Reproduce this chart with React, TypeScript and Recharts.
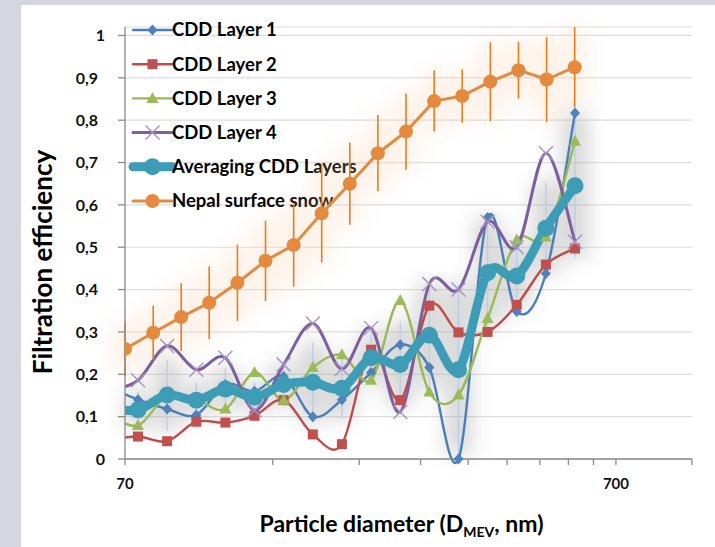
import React from 'react'
import { LineChart, Line, XAxis, YAxis, CartesianGrid, ErrorBar, Label } from 'recharts'

// CDD size bins (nm); the first bin lies just below the 70 nm axis start
const cddDiameter = [64.9, 74.4, 85.3, 97.8, 112.1, 128.5, 147.3, 168.9, 193.6, 222.0, 254.5, 291.7, 334.5, 383.4, 439.6, 503.9, 577.7]
const layer1 = [0.17, 0.14, 0.118, 0.104, 0.176, 0.16, 0.195, 0.1, 0.14, 0.204, 0.27, 0.216, 0.0, 0.57, 0.348, 0.438, 0.817]
const layer2 = [0.045, 0.053, 0.042, 0.088, 0.086, 0.102, 0.139, 0.058, 0.035, 0.258, 0.139, 0.362, 0.299, 0.3, 0.364, 0.459, 0.497]
const layer3 = [0.105, 0.079, 0.15, 0.14, 0.118, 0.204, 0.139, 0.216, 0.246, 0.186, 0.374, 0.158, 0.151, 0.332, 0.517, 0.524, 0.75]
const layer4 = [0.16, 0.186, 0.267, 0.211, 0.239, 0.115, 0.223, 0.32, 0.213, 0.309, 0.111, 0.413, 0.4, 0.56, 0.5, 0.722, 0.513]
const layerMean = [0.12, 0.116, 0.151, 0.139, 0.165, 0.146, 0.176, 0.181, 0.167, 0.239, 0.223, 0.292, 0.211, 0.44, 0.432, 0.545, 0.645]
const layerMeanErr = [0, 0.043, 0.083, 0.042, 0.05, 0.035, 0.05, 0.094, 0.072, 0.06, 0.1, 0.12, 0.2, 0.13, 0.08, 0.11, 0.17]

// Nepal surface snow reference
const nepalDiameter = [70, 79.9, 91.1, 103.9, 118.6, 135.3, 154.4, 176.1, 200.9, 229.2, 261.5, 298.4, 340.4, 388.4, 443.1, 505.6, 576.8]
const nepalSnow = [0.26, 0.298, 0.335, 0.369, 0.416, 0.468, 0.505, 0.58, 0.65, 0.722, 0.773, 0.845, 0.857, 0.891, 0.918, 0.896, 0.925]
const nepalErr = [0.064, 0.064, 0.08, 0.086, 0.09, 0.095, 0.098, 0.116, 0.097, 0.09, 0.09, 0.072, 0.063, 0.093, 0.067, 0.1, 0.095]

const xTicks = [70, 140, 210, 280, 350, 420, 490, 560, 630, 700, 1000]
const xLabels = [70, 700]
const yTicks = [0, 0.1, 0.2, 0.3, 0.4, 0.5, 0.6, 0.7, 0.8, 0.9, 1]

const rows = (ds: number[], vs: number[], es?: number[]) =>
    ds.map((d, i) => ({ d, v: vs[i], e: es ? es[i] : 0 }))

const cdd1 = rows(cddDiameter, layer1)
const cdd2 = rows(cddDiameter, layer2)
const cdd3 = rows(cddDiameter, layer3)
const cdd4 = rows(cddDiameter, layer4)
const cddMean = rows(cddDiameter, layerMean, layerMeanErr)
const nepal = rows(nepalDiameter, nepalSnow, nepalErr)

// Excel-like smoothed line: Catmull-Rom segments written as cubic beziers
const smooth = (ctx: any) => {
    let pts: number[][] = []
    return {
        areaStart() {},
        areaEnd() {},
        lineStart() { pts = [] },
        point(x: number, y: number) { pts.push([+x, +y]) },
        lineEnd() {
            const n = pts.length
            if (!n) return
            ctx.moveTo(pts[0][0], pts[0][1])
            for (let i = 0; i < n - 1; i++) {
                const p0 = pts[Math.max(i - 1, 0)], p1 = pts[i], p2 = pts[i + 1], p3 = pts[Math.min(i + 2, n - 1)]
                ctx.bezierCurveTo(
                    p1[0] + (p2[0] - p0[0]) / 6, p1[1] + (p2[1] - p0[1]) / 6,
                    p2[0] - (p3[0] - p1[0]) / 6, p2[1] - (p3[1] - p1[1]) / 6,
                    p2[0], p2[1])
            }
        },
    }
}

// marker shapes
const Diamond = ({ cx, cy, c }: any) =>
    <polygon points={`${cx},${cy - 5.5} ${cx + 5},${cy} ${cx},${cy + 5.5} ${cx - 5},${cy}`} fill={c} />
const Square = ({ cx, cy, c }: any) =>
    <rect x={cx - 5} y={cy - 5} width={10} height={10} fill={c} />
const Triangle = ({ cx, cy, c }: any) =>
    <polygon points={`${cx},${cy - 6.5} ${cx + 6},${cy + 4.5} ${cx - 6},${cy + 4.5}`} fill={c} />
const Cross = ({ cx, cy, c }: any) => (
    <g stroke={c} strokeWidth={1.4}>
        <line x1={cx - 7} y1={cy - 7} x2={cx + 7} y2={cy + 7} />
        <line x1={cx - 7} y1={cy + 7} x2={cx + 7} y2={cy - 7} />
    </g>
)
const Dot = (r: number) => ({ cx, cy, c }: any) => <circle cx={cx} cy={cy} r={r} fill={c} />
const BigDot = Dot(8.5)
const SmallDot = Dot(7)

const series = [
    { name: 'CDD Layer 1', color: '#4a7ebb', mark: '#4f81bd', width: 2.4, Shape: Diamond },
    { name: 'CDD Layer 2', color: '#be4b48', mark: '#c0504d', width: 2.4, Shape: Square },
    { name: 'CDD Layer 3', color: '#98b954', mark: '#9bbb59', width: 2.4, Shape: Triangle },
    { name: 'CDD Layer 4', color: '#7d5fa0', mark: '#a592c6', width: 3, Shape: Cross },
    { name: 'Averaging CDD Layers', color: '#3d9db6', mark: '#3d9db6', width: 9, Shape: BigDot },
    { name: 'Nepal surface snow', color: '#e48a3e', mark: '#e48a3e', width: 3, Shape: SmallDot },
]

const markerFor = (i: number) => (p: any) =>
    p.payload.d < 70
        ? <g key={p.index} />
        : React.createElement(series[i].Shape, { key: p.index, cx: p.cx, cy: p.cy, c: series[i].mark })

const YTick = ({ x, y, payload }: any) => {
    const v = payload.value
    const txt = v === 0 || v === 1 ? String(v) : v.toFixed(1).replace('.', ',')
    const shift = txt.includes(',') ? 7 : 0
    return (
        <text x={x - shift} y={y} dy="0.36em" textAnchor="end" fontSize={16} fontWeight={700} fill="#111">
            {txt}
        </text>
    )
}

const YTitle = ({ viewBox }: any) => {
    const x = viewBox.x + 21
    const y = viewBox.y + viewBox.height / 2 + 19
    return (
        <text x={x} y={y} transform={`rotate(-90, ${x}, ${y})`} textAnchor="middle" dominantBaseline="central"
            fontSize={26} fontWeight={700} fill="#000">
            Filtration efficiency
        </text>
    )
}

const XTitle = ({ viewBox }: any) => (
    <text x={viewBox.x + viewBox.width / 2 - 7} y={viewBox.y + 73} textAnchor="middle" fontSize={23} fontWeight={700} fill="#000">
        Particle diameter (D<tspan fontSize={14} dy={5}>MEV</tspan><tspan dy={-5}>, nm)</tspan>
    </text>
)

const LegendBox = () => (
    <g transform="translate(112, 8)">
        {series.map((s, i) => {
            const y = 17 + i * 34.2
            return (
                <g key={s.name}>
                    <line x1={0} x2={39} y1={y} y2={y} stroke={s.color} strokeWidth={s.width} strokeLinecap="round" />
                    <s.Shape cx={19.5} cy={y} c={s.mark} />
                    <text x={39} y={y} dy="0.35em" fontSize={18.5} fontWeight={700} fill="#000">{s.name}</text>
                </g>
            )
        })}
    </g>
)

export default function App() {
    return (
        <div style={{ position: 'absolute', left: 0, top: 0, width: 715, height: 547, background: '#d5d6e0', fontFamily: 'Lato, "Open Sans", sans-serif' }}>
            <div style={{ position: 'absolute', left: 21, top: 5, width: 694, height: 542, background: '#fff' }}>
                <LineChart width={694} height={542} margin={{ top: 22, right: 23, bottom: 0, left: 0 }}>
                    <defs>
                        <filter id="haze" filterUnits="userSpaceOnUse" x={0} y={0} width={694} height={542}>
                            <feGaussianBlur stdDeviation={10} />
                        </filter>
                    </defs>
                    <CartesianGrid vertical={false} stroke="#dedede" strokeWidth={1.2} />
                    <XAxis type="number" dataKey="d" scale="log" domain={[70, 1000]} allowDataOverflow
                        ticks={xTicks} interval={0} height={88} tickSize={6} tickMargin={13}
                        tickFormatter={(v: number) => (xLabels.includes(v) ? String(v) : '')}
                        axisLine={{ stroke: '#8a8a8a', strokeWidth: 1.3 }} tickLine={{ stroke: '#8a8a8a', strokeWidth: 1.3 }}
                        tick={{ fontSize: 15, fontWeight: 700, fill: '#111' }}>
                        <Label content={XTitle} />
                    </XAxis>
                    <YAxis type="number" domain={[0, 1]} ticks={yTicks} interval={0} width={104} tickSize={7} tickMargin={13}
                        axisLine={{ stroke: '#8a8a8a', strokeWidth: 1.3 }} tickLine={{ stroke: '#8a8a8a', strokeWidth: 1.3 }}
                        tick={<YTick />}>
                        <Label content={YTitle} />
                    </YAxis>

                    {/* soft halos behind the error bars */}
                    <Line data={nepal} dataKey="v" stroke="none" dot={false} activeDot={false} legendType="none" isAnimationActive={false}>
                        <ErrorBar dataKey="e" direction="y" width={0} stroke="#f8c9a2" strokeWidth={28} opacity={0.22}
                            filter="url(#haze)" isAnimationActive={false} />
                    </Line>
                    <Line data={cddMean} dataKey="v" stroke="none" dot={false} activeDot={false} legendType="none" isAnimationActive={false}>
                        <ErrorBar dataKey="e" direction="y" width={0} stroke="#9c9c9c" strokeWidth={26} opacity={0.42}
                            filter="url(#haze)" isAnimationActive={false} />
                        <ErrorBar dataKey="e" direction="y" width={0} stroke="#b9cde9" strokeWidth={1.3} isAnimationActive={false} />
                    </Line>

                    <Line data={cdd1} dataKey="v" type={smooth} stroke={series[0].color} strokeWidth={series[0].width}
                        dot={markerFor(0)} activeDot={false} isAnimationActive={false} />
                    <Line data={cdd2} dataKey="v" type={smooth} stroke={series[1].color} strokeWidth={series[1].width}
                        dot={markerFor(1)} activeDot={false} isAnimationActive={false} />
                    <Line data={cdd3} dataKey="v" type={smooth} stroke={series[2].color} strokeWidth={series[2].width}
                        dot={markerFor(2)} activeDot={false} isAnimationActive={false} />
                    <Line data={cdd4} dataKey="v" type={smooth} stroke={series[3].color} strokeWidth={series[3].width}
                        dot={markerFor(3)} activeDot={false} isAnimationActive={false} />
                    <Line data={cddMean} dataKey="v" type={smooth} stroke={series[4].color} strokeWidth={series[4].width}
                        dot={markerFor(4)} activeDot={false} isAnimationActive={false} />
                    <Line data={nepal} dataKey="v" type="linear" stroke={series[5].color} strokeWidth={series[5].width}
                        dot={markerFor(5)} activeDot={false} isAnimationActive={false}>
                        <ErrorBar dataKey="e" direction="y" width={0} stroke="#ee7a18" strokeWidth={1.6} isAnimationActive={false} />
                    </Line>

                    <LegendBox />
                </LineChart>
            </div>
        </div>
    )
}
